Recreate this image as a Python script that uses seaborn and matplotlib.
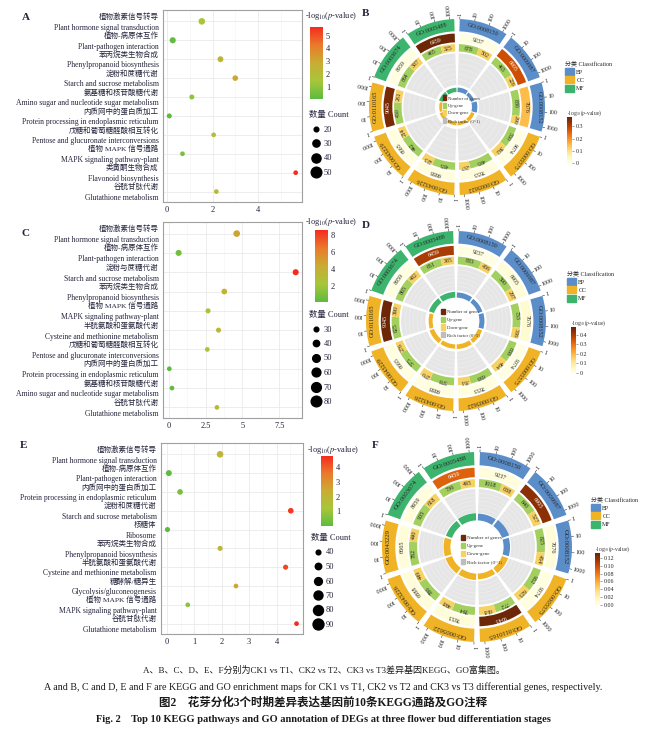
import numpy as np
import pandas as pd
import matplotlib.pyplot as plt
import matplotlib.transforms as mtransforms
import seaborn as sns
from matplotlib.colors import LinearSegmentedColormap, Normalize
from matplotlib.cm import ScalarMappable
from matplotlib.lines import Line2D
from matplotlib.patches import Patch

# ---------------- KEGG bubble data (A, C, E) ----------------
a_cn = ["植物激素信号转导", "植物-病原体互作", "苯丙烷类生物合成", "淀粉和蔗糖代谢",
        "氨基糖和核苷酸糖代谢", "内质网中的蛋白质加工", "戊糖和葡萄糖醛酸相互转化",
        "植物 MAPK 信号通路", "类黄酮生物合成", "谷胱甘肽代谢"]
a_en = ["Plant hormone signal transduction", "Plant-pathogen interaction",
        "Phenylpropanoid biosynthesis", "Starch and sucrose metabolism",
        "Amino sugar and nucleotide sugar metabolism",
        "Protein processing in endoplasmic reticulum",
        "Pentose and glucuronate interconversions", "MAPK signaling pathway-plant",
        "Flavonoid biosynthesis", "Glutathione metabolism"]
a_logp = [1.53, 0.25, 2.35, 3.0, 1.09, 0.10, 2.05, 0.68, 5.66, 2.17]
a_count = [27, 25, 24, 23, 21, 21, 19, 18, 18, 16]

c_cn = ["植物激素信号转导", "植物-病原体互作", "淀粉与蔗糖代谢", "苯丙烷类生物合成",
        "植物 MAPK 信号通路", "半胱氨酸和蛋氨酸代谢", "戊糖和葡萄糖醛酸相互转化",
        "内质网中的蛋白质加工", "氨基糖和核苷酸糖代谢", "谷胱甘肽代谢"]
c_en = ["Plant hormone signal transduction", "Plant-pathogen interaction",
        "Starch and sucrose metabolism", "Phenylpropanoid biosynthesis",
        "MAPK signaling pathway-plant", "Cysteine and methionine metabolism",
        "Pentose and glucuronate interconversions",
        "Protein processing in endoplasmic reticulum",
        "Amino sugar and nucleotide sugar metabolism", "Glutathione metabolism"]
c_logp = [4.61, 0.68, 8.6, 3.77, 2.67, 3.38, 2.62, 0.05, 0.23, 3.27]
c_count = [42, 38, 38, 36, 32, 32, 28, 27, 24, 23]

e_cn = ["植物激素信号转导", "植物-病原体互作", "内质网中的蛋白质加工", "淀粉和蔗糖代谢",
        "核糖体", "苯丙烷类生物合成", "半胱氨酸和蛋氨酸代谢", "糖酵解/糖异生",
        "植物 MAPK 信号通路", "谷胱甘肽代谢"]
e_en = ["Plant hormone signal transduction", "Plant-pathogen interaction",
        "Protein processing in endoplasmic reticulum", "Starch and sucrose metabolism",
        "Ribosome", "Phenylpropanoid biosynthesis", "Cysteine and methionine metabolism",
        "Glycolysis/gluconeogenesis", "MAPK signaling pathway-plant",
        "Glutathione metabolism"]
e_logp = [1.94, 0.07, 0.48, 4.52, 0.02, 1.94, 4.33, 2.52, 0.76, 4.73]
e_count = [51, 47, 45, 45, 42, 42, 42, 38, 34, 33]

# ---------------- GO circle data (B, D, F) ----------------
go_ids = ["GO:0008150", "GO:0009987", "GO:0008152", "GO:0005575", "GO:0005622",
          "GO:0043226", "GO:0043229", "GO:0110165", "GO:0003674", "GO:0005488"]
go_class = ["BP", "BP", "BP", "CC", "CC", "CC", "CC", "CC", "MF", "MF"]
go_total = [9237, 6905, 7676, 9074, 7653, 6888, 6665, 9045, 8959, 6459]

b_up = [678, 463, 886, 550, 495, 435, 442, 450, 664, 465]
b_down = [502, 226, 290, 392, 237, 223, 214, 261, 387, 325]
b_score = [0.004, 0.28, 0.15, 0.003, 0.01, 0.01, 0.008, 0.36, 0.005, 0.37]
b_rich = [0.128, 0.10, 0.153, 0.104, 0.096, 0.096, 0.098, 0.079, 0.117, 0.122]

d_up = [883, 590, 733, 638, 638, 578, 575, 625, 865, 651]
d_down = [456, 297, 336, 464, 351, 270, 276, 390, 482, 385]
d_score = [0.005, 0.02, 0.03, 0.004, 0.01, 0.008, 0.008, 0.47, 0.006, 0.40]
d_rich = [0.145, 0.13, 0.14, 0.12, 0.13, 0.12, 0.13, 0.11, 0.15, 0.16]

f_ids = ["GO:0008150", "GO:0009987", "GO:0008152", "GO:0005575", "GO:0110165",
         "GO:0005622", "GO:0043226", "GO:0043229", "GO:0003674", "GO:0005488"]
f_total = [9237, 6905, 7676, 9074, 9045, 7653, 6888, 6665, 8959, 6459]
f_up = [1018, 840, 825, 962, 772, 784, 786, 782, 905, 736]
f_down = [638, 527, 454, 625, 618, 498, 449, 440, 618, 495]
f_score = [0.004, 0.12, 0.006, 0.003, 0.13, 0.005, 0.005, 0.005, 0.004, 0.09]
f_rich = [0.18, 0.20, 0.17, 0.17, 0.15, 0.17, 0.18, 0.18, 0.17, 0.19]

# ---------------- style ----------------
sns.set_style("white")
plt.rcParams["font.family"] = ["Liberation Serif", "Noto Sans CJK SC"]
plt.rcParams["mathtext.fontset"] = "stix"
TXT = "#24243c"

kegg_cmap = LinearSegmentedColormap.from_list(
    "kegg", ["#5DBB3F", "#A8C63A", "#C9AC33", "#EA7A2B", "#F52B20"])
go_cmap = plt.get_cmap("YlOrBr")
class_colors = {"BP": "#5B8EC9", "CC": "#F0B325", "MF": "#3CB46E"}
up_color = "#A2CF5E"
down_color = "#F6D264"

W, H = 647, 739
fig = plt.figure(figsize=(W / 100, H / 100), dpi=100)


def px_axes(x0, y0, x1, y1, **kw):
    # pixel box, origin top-left
    return fig.add_axes([x0 / W, 1 - y1 / H, (x1 - x0) / W, (y1 - y0) / H], **kw)


def kegg_panel(box, cn, en, logp, count, xticks, cbar_box, cbar_ticks, title_xy,
               size_levels, size_range, leg_xy, letter, letter_xy):
    ax = px_axes(*box)
    df = pd.DataFrame({"term": en, "logp": logp, "count": count})
    norm = Normalize(min(logp), max(logp))
    sns.scatterplot(data=df, x="logp", y="term", hue="logp", hue_norm=norm,
                    palette=kegg_cmap, size="count",
                    size_norm=(size_levels[0], size_levels[-1]), sizes=size_range,
                    legend=False, linewidth=0, ax=ax, zorder=3)
    span = max(logp) - min(logp)
    ax.set_xlim(min(logp) - 0.05 * span, max(logp) + 0.05 * span)
    ax.set_ylim(len(en) - 0.45, -0.6)
    step = xticks[1] - xticks[0]
    ax.set_xticks(xticks)
    ax.set_xticklabels([f"{t:g}" if step >= 1 else f"{t:.1f}" for t in xticks])
    minor = np.arange(xticks[0] - step / 2, ax.get_xlim()[1], step)
    ax.set_xticks(minor[minor > ax.get_xlim()[0]], minor=True)
    ax.set_yticks(range(len(en)))
    ax.set_yticklabels([""] * len(en))
    # two-line category labels: Chinese above the tick, English below
    trans = mtransforms.blended_transform_factory(ax.transAxes, ax.transData)
    for i, (c, e) in enumerate(zip(cn, en)):
        ax.annotate(c, (0, i - 0.27), xycoords=trans, xytext=(-3.2, 0),
                    textcoords="offset points", ha="right", va="center",
                    fontsize=5.4, color=TXT)
        ax.annotate(e, (0, i + 0.33), xycoords=trans, xytext=(-3.2, 0),
                    textcoords="offset points", ha="right", va="center",
                    fontsize=5.5, color=TXT)
    ax.grid(True, which="major", color="#EAEAEA", lw=0.6)
    ax.grid(True, which="minor", axis="x", color="#F3F3F3", lw=0.4)
    ax.set_axisbelow(True)
    ax.set_xlabel("")
    ax.set_ylabel("")
    ax.tick_params(axis="both", which="major", length=2, width=0.4, color="#666666",
                   labelcolor=TXT, pad=1.2)
    ax.tick_params(axis="x", labelsize=6)
    ax.tick_params(which="minor", length=0)
    for s in ax.spines.values():
        s.set_color("#A0A0A0")
        s.set_linewidth(0.8)

    cax = px_axes(*cbar_box)
    cb = fig.colorbar(ScalarMappable(norm=norm, cmap=kegg_cmap), cax=cax, ticks=cbar_ticks)
    cb.outline.set_visible(False)
    cax.tick_params(labelsize=6, length=2.5, width=0.6, color="white",
                    direction="in", pad=2, labelcolor=TXT)
    fig.text(title_xy[0] / W, 1 - title_xy[1] / H, r"-log$_{10}$($p$-value)",
             fontsize=6, ha="left", va="center", color=TXT)

    lo, hi = size_levels[0], size_levels[-1]
    handles = [Line2D([], [], ls="", marker="o", color="black",
                      markersize=np.sqrt(size_range[0] + (v - lo) / (hi - lo)
                                         * (size_range[1] - size_range[0])))
               for v in size_levels]
    leg = fig.legend(handles, [str(v) for v in size_levels], title="数量 Count",
                     loc="upper left", bbox_to_anchor=(leg_xy[0] / W, 1 - leg_xy[1] / H),
                     frameon=False, fontsize=6, title_fontsize=6, labelspacing=0.78,
                     handletextpad=0.2, borderaxespad=0, borderpad=0, handlelength=1.6)
    leg._legend_box.align = "left"
    for t in leg.get_texts():
        t.set_color(TXT)
    leg.get_title().set_color(TXT)

    fig.text(letter_xy[0] / W, 1 - letter_xy[1] / H, letter, fontsize=8,
             fontweight="bold", ha="left", va="center", color=TXT)


def go_panel(center, radius, ids, classes, totals, ups, downs, scores, rich, r_in,
             score_ticks, tick_fmt, leg_xy, cbar_box, letter, letter_xy):
    cx, cy = center
    ext = 1.2
    ax = px_axes(cx - radius * ext, cy - radius * ext, cx + radius * ext,
                 cy + radius * ext, projection="polar")
    ax.set_theta_zero_location("N")
    ax.set_theta_direction(-1)
    ax.set_ylim(0, ext)
    ax.axis("off")

    n = len(ids)
    slot = 2 * np.pi / n
    gap = np.radians(3.6)
    width = slot - gap
    smax = max(scores) * 1.02
    g0 = r_in + 0.08
    fs = 4.2 * radius / 88

    for i in range(n):
        start = i * slot + gap / 2
        mid = start + width / 2
        col = class_colors[classes[i]]
        # outer class ring with GO id
        ax.bar(mid, 0.14, width=width, bottom=0.86, color=col, lw=0)
        ax.text(mid, 0.93, ids[i], rotation=-np.degrees(mid), ha="center", va="center",
                rotation_mode="anchor", fontsize=fs + 0.3, color="#2a2a2a")
        # axis ticks 1..1000
        for k, lab in enumerate(["1", "10", "100", "1000"]):
            th = start + width * (k / 3.3)
            ax.plot([th, th], [1.0, 1.025], color="#333333", lw=0.4)
            ax.text(th, 1.04, lab, rotation=90 - np.degrees(th), ha="left", va="center",
                    rotation_mode="anchor", fontsize=fs, color="#222222")
        # number of genes ring
        v = scores[i] / smax
        ax.bar(mid, 0.10, width=width, bottom=0.735, color=go_cmap(v), lw=0)
        ax.text(mid, 0.785, str(totals[i]), rotation=-np.degrees(mid), ha="center",
                va="center", rotation_mode="anchor", fontsize=fs,
                color="white" if v > 0.55 else "#2a2a2a")
        # up / down ring
        frac = ups[i] / (ups[i] + downs[i])
        ax.bar(start, 0.085, width=width * frac, bottom=0.63, color=up_color,
               lw=0, align="edge")
        ax.bar(start + width * frac, 0.085, width=width * (1 - frac), bottom=0.63,
               color=down_color, lw=0, align="edge")
        m_up = start + width * frac / 2
        m_dn = start + width * (1 + frac) / 2
        ax.text(m_up, 0.6725, str(ups[i]), rotation=-np.degrees(m_up), ha="center",
                va="center", rotation_mode="anchor", fontsize=fs, color="#2a2a2a")
        ax.text(m_dn, 0.6725, str(downs[i]), rotation=-np.degrees(m_dn), ha="center",
                va="center", rotation_mode="anchor", fontsize=fs, color="#2a2a2a")
        # rich factor track
        ax.bar(mid, 0.61 - g0, width=width, bottom=g0, color="#E6E6E6", lw=0)
        arc = np.linspace(start, start + width, 40)
        for rr in np.linspace(g0, 0.61, 7)[1:-1]:
            ax.plot(arc, np.full_like(arc, rr), color="#F2F2F2", lw=0.35)
        ax.bar(mid, rich[i] * 0.4, width=width, bottom=r_in, color=col, lw=0)

    # centre legend
    h = [Patch(color="#6B2A0E"), Patch(color=up_color), Patch(color=down_color),
         Patch(color="#BDBDBD")]
    lg = ax.legend(h, ["Number of genes", "Up-gene", "Down-gene", "Rich factor (0~1)"],
                   loc="center", bbox_to_anchor=(0.52, 0.49), frameon=False,
                   fontsize=fs * 0.8, handlelength=0.7, handleheight=1.3,
                   labelspacing=0.5, handletextpad=0.4, borderpad=0)
    for t in lg.get_texts():
        t.set_color("#333333")

    # classification legend
    hc = [Patch(color=class_colors[c]) for c in ["BP", "CC", "MF"]]
    lc = fig.legend(hc, ["BP", "CC", "MF"], title="分类 Classification", loc="upper left",
                    bbox_to_anchor=(leg_xy[0] / W, 1 - leg_xy[1] / H), frameon=False,
                    fontsize=4.3, title_fontsize=4.3, handlelength=1.5, handleheight=1.4,
                    labelspacing=0.25, handletextpad=0.4, borderpad=0, borderaxespad=0)
    lc._legend_box.align = "left"

    cax = px_axes(*cbar_box)
    cb = fig.colorbar(ScalarMappable(norm=Normalize(0, smax), cmap=go_cmap), cax=cax,
                      ticks=score_ticks)
    cb.ax.set_yticklabels([tick_fmt.format(t) for t in score_ticks])
    cb.outline.set_visible(False)
    cax.tick_params(labelsize=4.3, length=1.5, width=0.4, color="#555555", pad=1.5)
    fig.text(cbar_box[0] / W, 1 - (cbar_box[1] - 4) / H, r"-log$_{10}$($p$-value)",
             fontsize=4, ha="left", va="center", color="#333333")

    fig.text(letter_xy[0] / W, 1 - letter_xy[1] / H, letter, fontsize=8,
             fontweight="bold", ha="left", va="center", color=TXT)


# ---------------- panels ----------------
kegg_panel((163, 10, 302, 202), a_cn, a_en, a_logp, a_count, [0, 2, 4],
           (310, 27, 323, 99), [1, 2, 3, 4, 5], (305, 16),
           [20, 30, 40, 50], (11.5, 59), (309, 111), "A", (22, 17))
kegg_panel((163, 222, 302, 418), c_cn, c_en, c_logp, c_count, [0, 2.5, 5, 7.5],
           (315, 230, 328, 302), [2, 4, 6, 8], (305, 222),
           [30, 40, 50, 60, 70, 80], (11.5, 59), (309, 311), "C", (22, 233))
kegg_panel((161, 443, 303, 634), e_cn, e_en, e_logp, e_count, [0, 1, 2, 3, 4],
           (321, 456, 333, 526), [1, 2, 3, 4], (307, 450),
           [40, 50, 60, 70, 80, 90], (11.5, 62), (311, 534), "E", (20, 446))

go_panel((457, 107), 88, go_ids, go_class, go_total, b_up, b_down, b_score, b_rich,
         0.17, [0, 0.1, 0.2, 0.3], "{:g}", (565, 61), (567, 117, 572, 163),
         "B", (362, 13))
go_panel((456, 321), 90, go_ids, go_class, go_total, d_up, d_down, d_score, d_rich,
         0.26, [0, 0.1, 0.2, 0.3, 0.4], "{:g}", (567, 271), (571, 327, 576, 373),
         "D", (362, 225))
go_panel((477, 547), 95, f_ids, go_class, f_total, f_up, f_down, f_score, f_rich,
         0.28, [0, 0.02, 0.04, 0.06, 0.08, 0.10, 0.12], "{:.2f}", (591, 497),
         (595, 553, 600, 605), "F", (372, 445))

# ---------------- captions ----------------
fig.text(0.5, 1 - 670 / H,
         "A、B、C、D、E、F分别为CK1 vs T1、CK2 vs T2、CK3 vs T3差异基因KEGG、GO富集图。",
         fontsize=6.5, ha="center", va="center", color="#1a1a1a")
fig.text(0.5, 1 - 687 / H,
         "A and B, C and D, E and F are KEGG and GO enrichment maps for CK1 vs T1, "
         "CK2 vs T2 and CK3 vs T3 differential genes, respectively.",
         fontsize=7.2, ha="center", va="center", color="#1a1a1a")
fig.text(0.5, 1 - 703 / H, "图2　花芽分化3个时期差异表达基因前10条KEGG通路及GO注释",
         fontsize=8.3, fontweight="bold", ha="center", va="center", color="#1a1a1a")
fig.text(0.5, 1 - 719 / H,
         "Fig. 2　Top 10 KEGG pathways and GO annotation of DEGs at three flower bud "
         "differentiation stages",
         fontsize=7.5, fontweight="bold", ha="center", va="center", color="#1a1a1a")

fig.savefig("out.png", dpi=100)
